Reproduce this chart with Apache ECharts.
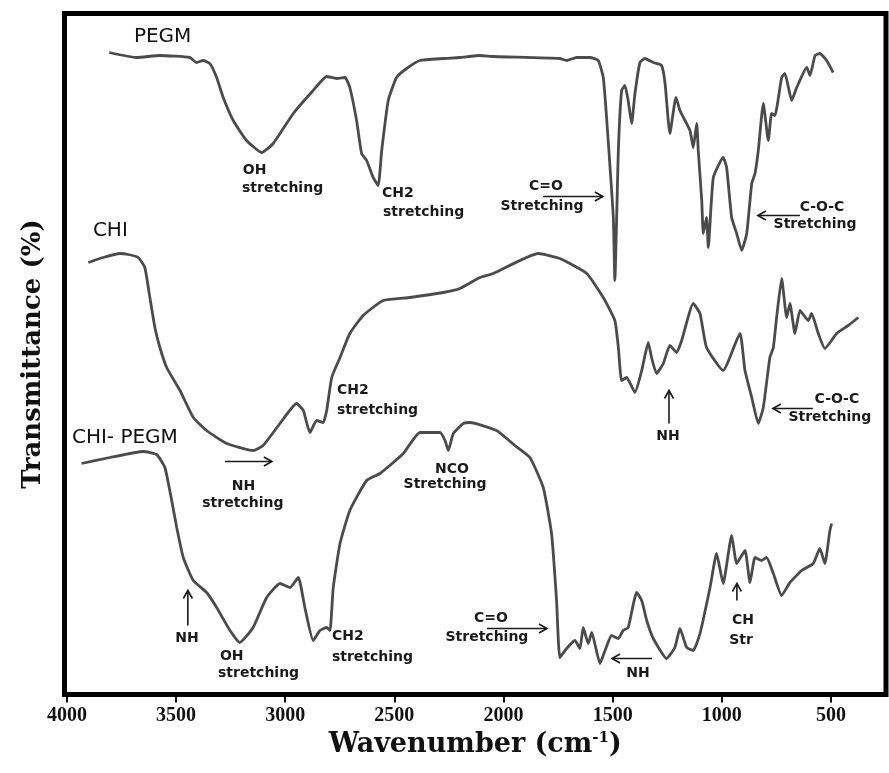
<!DOCTYPE html>
<html><head><meta charset="utf-8">
<script src="https://cdn.jsdelivr.net/npm/echarts@6/dist/echarts.min.js"></script>
<style>html,body{margin:0;padding:0;background:#fff}#c{width:889px;height:773px}</style>
</head><body><div id="c"></div>
<script>
// x tick labels (cm-1)
const xTicks = [4000,3500,3000,2500,2000,1500,1000,500];

// PEGM spectrum (wavenumber, transmittance arbitrary offset units)
const pegmWn = [3806,3681,3574,3437,3406,3376,3345,3314,3284,3238,3177,3108,3055,2963,2872,2810,2764,2726,2704,2673,2650,2627,2597,2574,2558,2528,2490,2444,2383,2276,2200,2108,2047,1742,1711,1665,1604,1566,1543,1528,1512,1497,1490,1474,1459,1444,1429,1413,1398,1375,1352,1314,1276,1260,1238,1210,1192,1146,1131,1115,1108,1092,1085,1070,1062,1039,994,978,955,932,909,886,863,848,833,810,787,772,757,726,711,680,657,611,596,573,551,520,490];
const pegmT = [64.2,63.7,63.9,63.7,63.2,63.4,63.1,61.7,59.7,57.4,55.4,54.2,55.1,58.1,60.4,61.8,61.6,61.7,60.7,57.4,54.1,53.4,51.7,50.9,54.4,59.4,61.7,62.6,63.4,63.6,63.7,63.9,63.8,63.6,63.4,63.7,63.7,63.4,61.7,57.7,52.7,47.7,41.4,54.4,60.4,60.9,59.4,57.1,60.1,63.2,63.6,63.2,62.9,61.1,56.1,59.7,58.4,56.4,54.7,57.1,54.4,49.4,46.1,47.7,44.7,51.7,53.7,52.7,47.7,46.1,44.4,46.1,51.1,52.1,54.4,59.1,55.4,58.1,57.9,61.7,62.1,59.4,60.7,62.7,61.9,63.9,64.1,63.4,62.2];

// CHI spectrum
const chiWn = [3902,3834,3757,3719,3673,3643,3620,3597,3574,3543,3482,3421,3360,3268,3147,3101,3024,2948,2917,2887,2856,2826,2810,2787,2749,2704,2643,2551,2429,2276,2200,2108,2047,1841,1742,1619,1543,1490,1474,1459,1436,1398,1367,1337,1322,1299,1268,1238,1207,1184,1131,1100,1070,994,917,894,863,833,810,780,764,749,726,703,688,665,642,604,589,558,528,474,421,375];
const chiT = [43.2,43.7,44.1,44.0,43.7,42.7,39.7,36.7,34.7,32.7,30.4,27.7,26.4,25.1,24.4,24.9,27.1,29.1,28.4,26.2,27.4,27.2,28.4,31.7,33.7,36.1,37.9,39.4,39.7,40.2,40.6,41.7,42.1,44.1,43.6,42.1,39.7,37.4,34.7,31.4,31.7,30.2,32.4,35.2,33.7,32.1,33.1,34.9,34.2,35.4,39.1,38.1,34.7,32.4,36.1,32.4,29.7,27.1,28.7,33.7,34.7,37.7,41.6,37.7,39.1,36.1,38.4,37.4,38.1,36.1,34.6,36.1,36.9,37.7];

// CHI-PEGM spectrum
const cpWn = [3933,3803,3650,3589,3551,3520,3497,3467,3421,3360,3314,3253,3208,3147,3085,3024,2978,2940,2910,2872,2841,2810,2795,2780,2749,2704,2627,2566,2459,2383,2291,2268,2253,2230,2184,2154,2032,1948,1879,1818,1780,1757,1742,1711,1673,1650,1635,1612,1596,1558,1535,1505,1474,1452,1429,1390,1367,1344,1314,1253,1215,1192,1161,1131,1100,1054,1024,994,955,932,894,871,848,818,795,764,726,688,634,581,551,528,505,497];
const cpT = [23.1,23.7,24.3,24.0,22.7,19.4,16.7,13.7,11.4,10.2,8.7,6.4,5.2,6.7,9.7,11.1,10.7,11.7,8.7,5.4,6.4,6.7,6.4,10.7,15.1,18.4,21.4,22.1,24.1,26.2,26.2,25.4,24.4,26.1,27.1,27.2,26.4,24.9,23.7,20.7,16.1,9.4,3.7,4.6,5.4,4.6,6.7,5.1,6.2,3.1,4.4,5.9,5.6,6.4,6.7,10.2,9.4,7.4,5.6,3.6,4.7,6.6,4.7,4.4,6.1,10.7,14.1,11.1,15.9,13.1,14.4,11.2,13.7,13.4,13.7,12.1,9.9,11.2,12.4,13.1,14.6,13.1,16.4,17.1];

// Spectrum name labels: [text, wavenumber, transmittance]
const seriesLabels = [["PEGM",3693,65.8],["CHI",3881,46.4],["CHI- PEGM",3977,25.7]];

// Annotation text lines: [text, wavenumber, transmittance, align]
const noteLines = [
  ["OH",3194,52.4,"left"],["stretching",3198,50.6,"left"],
  ["CH2",2557,50.1,"left"],["stretching",2552,48.2,"left"],
  ["C=O",1806,50.8,"center"],["Stretching",1824,48.8,"center"],
  ["C-O-C",541,48.7,"center"],["Stretching",573,47.0,"center"],
  ["CH2",2763,30.4,"left"],["stretching",2763,28.4,"left"],
  ["NH",3191,20.8,"center"],["stretching",3194,19.1,"center"],
  ["NH",1247,25.8,"center"],
  ["C-O-C",473,29.5,"center"],["Stretching",505,27.7,"center"],
  ["NCO",2236,22.5,"center"],["Stretching",2268,21.0,"center"],
  ["NH",3450,5.6,"center"],
  ["OH",3299,3.8,"left"],["stretching",3308,2.1,"left"],
  ["CH2",2786,5.8,"left"],["stretching",2786,3.7,"left"],
  ["C=O",2058,7.6,"center"],["Stretching",2076,5.7,"center"],
  ["NH",1384,2.1,"center"],
  ["CH",903,7.4,"center"],["Str",912,5.4,"center"]
];

// Arrows: [tailWn, tailT, headWn, headT]
const arrows = [
  [1819,49.8,1545,49.8],[642,47.9,835,47.9],
  [3276,23.3,3061,23.3],[1242,27.1,1242,30.4],[583,28.6,766,28.6],
  [3446,6.9,3446,10.4],[2076,6.6,1801,6.6],[1320,3.6,1503,3.6],[931,9.4,931,11.1]
];

const pair = (w,t)=>w.map((x,i)=>[x,t[i]]);
const chart = echarts.init(document.getElementById('c'));
const ls = {color:'#4b4b4b', width:2.8};
const mk = (name,w,t)=>({name,type:'line',data:pair(w,t),showSymbol:false,smooth:0.15,lineStyle:ls,silent:true});
chart.setOption({
  animation:false,
  backgroundColor:'#fff',
  grid:{left:64.5,right:3,top:13.5,bottom:78.5,show:true,borderColor:'#000',borderWidth:5,backgroundColor:'rgba(0,0,0,0)'},
  xAxis:{type:'value',min:248,max:4011,inverse:true,splitLine:{show:false},
    axisLine:{show:false},
    axisTick:{show:true,customValues:xTicks,length:8,lineStyle:{color:'#000',width:2}},
    axisLabel:{show:true,customValues:xTicks,formatter:v=>String(v),margin:11,color:'#111',fontFamily:'Liberation Serif',fontWeight:'bold',fontSize:20},
    name:'Wavenumber (cm{sup|-1})',nameLocation:'middle',nameGap:36,
    nameTextStyle:{fontFamily:'DejaVu Serif',fontWeight:'bold',fontSize:27,color:'#111',
      rich:{sup:{fontFamily:'DejaVu Serif',fontWeight:'bold',fontSize:15,color:'#111',padding:[0,0,13,0]}}}},
  yAxis:{type:'value',min:0,max:68.1,axisLine:{show:false},axisTick:{show:false},axisLabel:{show:false},splitLine:{show:false},
    name:'Transmittance (%)',nameLocation:'middle',nameGap:18,
    nameTextStyle:{fontFamily:'DejaVu Serif',fontWeight:'bold',fontSize:26,color:'#111'}},
  series:[mk('PEGM',pegmWn,pegmT),mk('CHI',chiWn,chiT),mk('CHI-PEGM',cpWn,cpT)]
});

const px = (w,t)=>chart.convertToPixel({gridIndex:0},[w,t]);
const g = [];
seriesLabels.forEach(([s,w,t])=>{
  const p = px(w,t);
  g.push({type:'text',x:p[0],y:p[1],style:{text:s,font:'20px "DejaVu Sans"',fill:'#111',align:'left',verticalAlign:'middle',textAlign:'left',textVerticalAlign:'middle'}});
});
noteLines.forEach(([s,w,t,a])=>{
  const p = px(w,t);
  g.push({type:'text',x:p[0],y:p[1],style:{text:s,font:'bold 14px "DejaVu Sans"',fill:'#1a1a1a',align:a,verticalAlign:'middle',textAlign:a,textVerticalAlign:'middle'}});
});
arrows.forEach(([w1,t1,w2,t2])=>{
  const a = px(w1,t1), b = px(w2,t2);
  const dx = b[0]-a[0], dy = b[1]-a[1], L = Math.hypot(dx,dy)||1;
  const ux = dx/L, uy = dy/L, nx = -uy, ny = ux, hl = 8, hw = 4.5;
  g.push({type:'polyline',shape:{points:[a,b]},style:{stroke:'#1a1a1a',lineWidth:1.6,fill:null}});
  g.push({type:'polyline',shape:{points:[[b[0]-ux*hl+nx*hw,b[1]-uy*hl+ny*hw],b,[b[0]-ux*hl-nx*hw,b[1]-uy*hl-ny*hw]]},style:{stroke:'#1a1a1a',lineWidth:1.6,fill:null}});
});
chart.setOption({graphic:g});
</script>
</body></html>
